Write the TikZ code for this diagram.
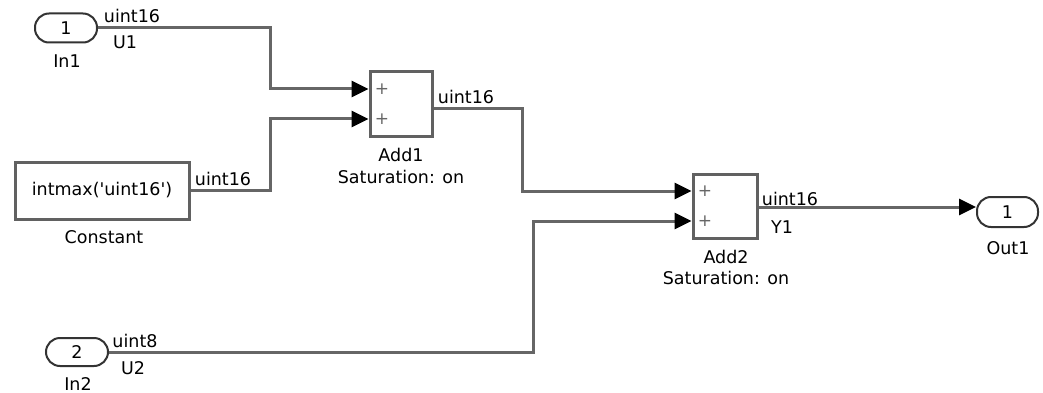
\documentclass[tikz,border=0pt]{standalone}
\usepackage{fontspec}
\setmainfont{DejaVu Sans}[Ligatures=TeXOff]
\usetikzlibrary{arrows.meta,calc}
\tikzset{
  blk/.style={draw=black!62, line width=3pt, fill=white, inner sep=0pt, minimum width=#1},
  port/.style={draw=black!80, line width=2pt, rounded corners=14pt, inner sep=0pt, minimum width=62pt, minimum height=29pt, font=\lbl},
  sig/.style={draw=black!60, line width=3pt, line join=miter},
  arr/.style={sig, -{Triangle[length=17pt,width=16pt,color=black]}},
  txt/.style={inner sep=0pt, font=\lbl, text=black},
  plus/.style={inner sep=0pt, font=\fontsize{17}{17}\selectfont, text=black!60},
}
\newcommand{\lbl}{\fontsize{17.5}{20}\selectfont}
\begin{document}
\begin{tikzpicture}[x=1pt,y=-1pt]
\useasboundingbox (0,0) rectangle (1043,393);
% blocks
\node[port] (In1) at (66,28) {1};
\node[port, minimum width=62pt, minimum height=28pt] (In2) at (77,352) {2};
\node[port, minimum width=61pt, minimum height=30pt] (Out1) at (1007.5,212) {1};
\node[blk=174pt, minimum height=57pt, font=\lbl] (Const) at (102,190.5) {intmax('uint16')};
\node[blk=62pt, minimum height=64pt] (Add1) at (401,104) {};
\node[blk=64pt, minimum height=64pt] (Add2) at (725,206) {};
% plus signs
\node[plus] (p11) at (382,89) {+};
\node[plus] (p12) at (382,119) {+};
\node[plus] (p21) at (705,191) {+};
\node[plus] (p22) at (705,221) {+};
% block labels
\node[txt] (lIn1) at (67,61) {In1};
\node[txt] (lIn2) at (78,384) {In2};
\node[txt] (lOut1) at (1008,248) {Out1};
\node[txt] (lConst) at (104,237) {Constant};
\node[txt] (lAdd1) at (401,155) {Add1};
\node[txt] (sAdd1) at (401,177) {Saturation: on};
\node[txt] (lAdd2) at (726,257) {Add2};
\node[txt] (sAdd2) at (726,278) {Saturation: on};
% signal labels
\node[txt] (t1) at (132,16) {uint16};
\node[txt] (n1) at (125,42) {U1};
\node[txt] (t2) at (223,179) {uint16};
\node[txt] (t3) at (466,97) {uint16};
\node[txt] (t4) at (790,199) {uint16};
\node[txt] (n4) at (782,227) {Y1};
\node[txt] (t5) at (135,341) {uint8};
\node[txt] (n5) at (133,368) {U2};
% ports and bends
\coordinate (a1i1) at ([yshift=15pt]Add1.west);
\coordinate (a1i2) at ([yshift=-15pt]Add1.west);
\coordinate (a1o) at ([yshift=-5pt]Add1.east);
\coordinate (a2i1) at ([yshift=15pt]Add2.west);
\coordinate (a2i2) at ([yshift=-15pt]Add2.west);
\coordinate (a2o) at ([yshift=-1pt]Add2.east);
\coordinate (b1) at (270,0);
\coordinate (b2) at (522,0);
\coordinate (b3) at (533,0);
% connectors
\draw[arr] (In1.east) -- (In1.east -| b1) |- (a1i1);
\draw[arr] (Const.east) -- (Const.east -| b1) |- (a1i2);
\draw[arr] (a1o) -- (a1o -| b2) |- (a2i1);
\draw[arr] (In2.east) -- (In2.east -| b3) |- (a2i2);
\draw[arr] (a2o) -- (a2o -| Out1.west);
\end{tikzpicture}
\end{document}
